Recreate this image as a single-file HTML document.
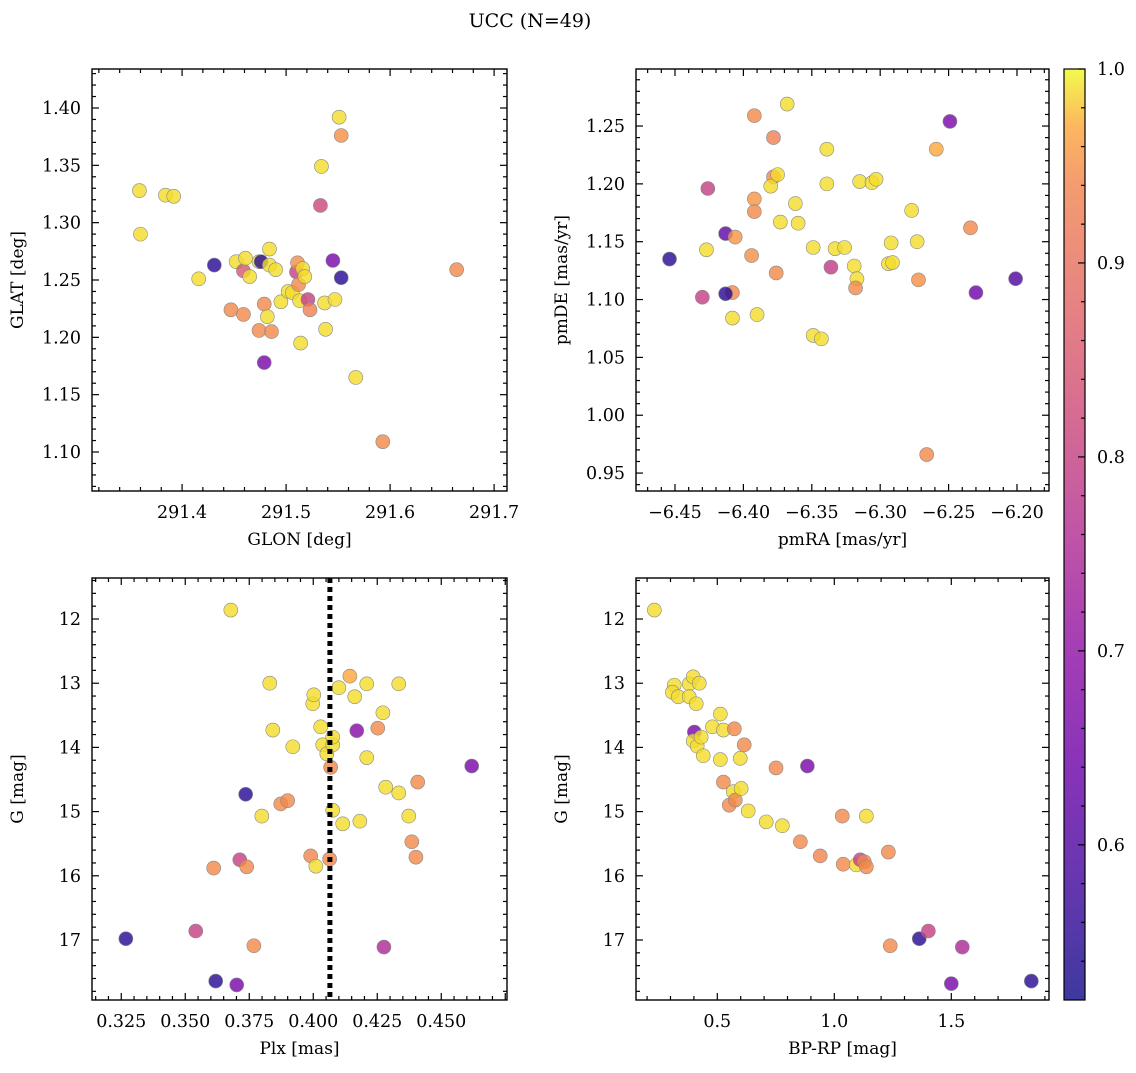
<!DOCTYPE html>
<html><head><meta charset="utf-8"><style>
body{margin:0;background:#fff;}
svg text{font-family:"DejaVu Serif","Liberation Serif",serif;fill:#000;}
</style></head><body>
<svg id="fig" width="1136" height="1068" viewBox="0 0 1136 1068" xmlns="http://www.w3.org/2000/svg">
<defs>
<linearGradient id="plasma" x1="0" y1="1" x2="0" y2="0">
<stop offset="0" stop-color="#0d0887"/><stop offset="0.13" stop-color="#41049d"/><stop offset="0.25" stop-color="#6a00a8"/><stop offset="0.38" stop-color="#8f0da4"/><stop offset="0.5" stop-color="#b12a90"/><stop offset="0.63" stop-color="#cc4778"/><stop offset="0.75" stop-color="#e16462"/><stop offset="0.88" stop-color="#f2844b"/><stop offset="0.94" stop-color="#fca636"/><stop offset="1" stop-color="#f0f921"/>
</linearGradient>
</defs>
<text x="530" y="27" font-size="19" text-anchor="middle">UCC (N=49)</text>
</svg>
<script>
// Panel 1: GLON / GLAT
const p1x=[291.359,291.360,291.384,291.392,291.416,291.431,291.447,291.452,291.459,291.459,291.461,291.465,291.474,291.476,291.474,291.479,291.479,291.482,291.484,291.484,291.486,291.490,291.495,291.502,291.506,291.510,291.511,291.512,291.513,291.514,291.516,291.518,291.521,291.523,291.533,291.534,291.537,291.538,291.545,291.547,291.551,291.553,291.553,291.567,291.593,291.664];
const p1y=[1.328,1.290,1.324,1.323,1.251,1.263,1.224,1.266,1.220,1.258,1.269,1.253,1.266,1.266,1.206,1.178,1.229,1.218,1.263,1.277,1.205,1.259,1.231,1.240,1.239,1.257,1.265,1.246,1.232,1.195,1.260,1.253,1.233,1.224,1.315,1.349,1.230,1.207,1.267,1.233,1.392,1.376,1.252,1.165,1.109,1.259];
const p1c=[0.99,0.99,0.99,0.99,0.99,0.55,0.945,0.99,0.945,0.85,0.99,0.99,0.99,0.55,0.945,0.66,0.945,0.99,0.99,0.99,0.945,0.99,0.99,0.99,0.99,0.80,0.95,0.945,0.99,0.99,0.99,0.99,0.80,0.93,0.82,0.99,0.99,0.99,0.66,0.99,0.99,0.95,0.55,0.99,0.945,0.945];
// Panel 2: pmRA / pmDE
const p2x=[-6.454,-6.426,-6.427,-6.430,-6.408,-6.413,-6.413,-6.408,-6.406,-6.392,-6.392,-6.392,-6.394,-6.390,-6.378,-6.380,-6.375,-6.378,-6.373,-6.376,-6.368,-6.362,-6.360,-6.349,-6.349,-6.336,-6.343,-6.339,-6.339,-6.333,-6.326,-6.319,-6.317,-6.318,-6.315,-6.306,-6.303,-6.294,-6.292,-6.291,-6.277,-6.273,-6.272,-6.266,-6.259,-6.249,-6.234,-6.230,-6.201];
const p2y=[1.135,1.196,1.143,1.102,1.106,1.157,1.105,1.084,1.154,1.259,1.187,1.176,1.138,1.087,1.206,1.198,1.208,1.240,1.167,1.123,1.269,1.183,1.166,1.145,1.069,1.128,1.066,1.230,1.200,1.144,1.145,1.129,1.118,1.110,1.202,1.201,1.204,1.131,1.149,1.132,1.177,1.150,1.117,0.966,1.230,1.254,1.162,1.106,1.118];
const p2c=[0.55,0.80,0.99,0.80,0.945,0.62,0.55,0.99,0.955,0.945,0.955,0.945,0.95,0.99,0.945,0.99,0.99,0.93,0.99,0.945,0.99,0.99,0.99,0.99,0.99,0.79,0.99,0.99,0.99,0.99,0.99,0.99,0.99,0.945,0.99,0.99,0.99,0.99,0.99,0.99,0.99,0.99,0.95,0.945,0.97,0.66,0.945,0.64,0.60];
// Panel 3: Plx / G
const p3x=[0.3268,0.3541,0.3611,0.3619,0.3678,0.3701,0.3713,0.3736,0.3740,0.3768,0.3799,0.3830,0.3842,0.3873,0.3900,0.3920,0.3990,0.3998,0.4002,0.4010,0.4029,0.4037,0.4053,0.4064,0.4068,0.4076,0.4076,0.4076,0.4100,0.4115,0.4143,0.4162,0.4170,0.4182,0.4209,0.4209,0.4252,0.4272,0.4276,0.4283,0.4334,0.4334,0.4373,0.4385,0.4401,0.4408,0.4619];
const p3y=[16.98,16.86,15.88,17.64,11.86,17.70,15.75,14.73,15.86,17.09,15.07,13.00,13.73,14.88,14.83,13.99,15.69,13.32,13.18,15.85,13.68,13.96,14.10,15.74,14.31,13.96,13.84,14.98,13.07,15.19,12.89,13.21,13.74,15.15,13.01,14.16,13.70,13.46,17.11,14.62,14.71,13.01,15.07,15.47,15.71,14.54,14.29];
const p3c=[0.55,0.80,0.945,0.55,0.99,0.66,0.80,0.55,0.945,0.945,0.99,0.99,0.99,0.945,0.945,0.99,0.94,0.99,0.99,0.99,0.99,0.99,0.99,0.945,0.945,0.99,0.99,0.99,0.99,0.99,0.97,0.99,0.68,0.99,0.99,0.99,0.945,0.99,0.75,0.99,0.99,0.99,0.99,0.945,0.945,0.945,0.66];
// Panel 4: BP-RP / G
const p4x=[0.231,0.316,0.308,0.333,0.380,0.380,0.397,0.410,0.402,0.397,0.414,0.423,0.431,0.440,0.513,0.479,0.526,0.513,0.526,0.551,0.568,0.573,0.577,0.598,0.602,0.615,0.632,0.709,0.751,0.778,0.885,0.855,0.940,1.034,1.038,1.094,1.111,1.128,1.137,1.137,1.231,1.239,1.363,1.402,1.500,1.547,1.842];
const p4y=[11.86,13.03,13.14,13.21,13.01,13.21,12.90,13.32,13.76,13.90,13.98,13.00,13.84,14.13,13.48,13.68,13.73,14.19,14.54,14.90,14.69,13.71,14.82,14.17,14.64,13.96,14.99,15.16,14.32,15.22,14.29,15.47,15.69,15.07,15.82,15.83,15.75,15.78,15.07,15.86,15.63,17.09,16.98,16.86,17.68,17.11,17.64];
const p4c=[0.99,0.99,0.99,0.99,0.99,0.99,0.99,0.99,0.66,0.99,0.99,0.99,0.99,0.99,0.99,0.99,0.99,0.99,0.945,0.945,0.99,0.945,0.945,0.99,0.99,0.945,0.99,0.99,0.945,0.99,0.66,0.945,0.94,0.945,0.945,0.99,0.80,0.945,0.99,0.945,0.945,0.945,0.55,0.80,0.66,0.75,0.55];
const plxMedian=0.4065;
const cbTicks=[0.6,0.7,0.8,0.9,1.0];
const cbMin=0.52, cbMax=1.0;

const NS='http://www.w3.org/2000/svg';
const svg=document.getElementById('fig');
function mk(tag,attrs,parent){const e=document.createElementNS(NS,tag);for(const k in attrs)e.setAttribute(k,attrs[k]);(parent||svg).appendChild(e);return e;}
const stops=[[0,[13,8,135]],[0.13,[65,4,157]],[0.25,[106,0,168]],[0.38,[143,13,164]],[0.5,[177,42,144]],[0.63,[204,71,120]],[0.75,[225,100,98]],[0.88,[242,132,75]],[0.94,[252,166,54]],[1,[240,249,33]]];
function cmap(v){let t=(v-cbMin)/(cbMax-cbMin);t=Math.max(0,Math.min(1,t));for(let i=1;i<stops.length;i++){if(t<=stops[i][0]){const a=stops[i-1],b=stops[i];const f=(t-a[0])/(b[0]-a[0]);const c=a[1].map((x,j)=>Math.round(x+(b[1][j]-x)*f));return `rgb(${c.join(',')})`;}}return 'rgb(240,249,33)';}
function fmt(v,d){return (v<0?'\u2212':'')+Math.abs(v).toFixed(d);}

function panel(name,box,xd,yd,xt,yt,xs,ys,xl,yl,xdec,ydec){
  const g=mk('g',{});  
  const [L,T,R,B]=box;
  const sx=v=>L+(v-xd[0])/(xd[1]-xd[0])*(R-L);
  const sy=v=>T+(v-yd[0])/(yd[1]-yd[0])*(B-T);
  const eps=1e-9;
  for(let v=Math.ceil(xd[0]/xs[1]-eps)*xs[1];v<=xd[1]+eps;v+=xs[1]){const X=sx(v);const major=Math.abs(v/xs[0]-Math.round(v/xs[0]))<1e-6;const len=major?7:4;
    mk('line',{x1:X,x2:X,y1:B,y2:B-len,stroke:'#000','stroke-width':1.2},g);mk('line',{x1:X,x2:X,y1:T,y2:T+len,stroke:'#000','stroke-width':1.2},g);}
  for(const v of xt){const t=mk('text',{x:sx(v),y:B+27,'font-size':17.5,'text-anchor':'middle'},g);t.textContent=fmt(v,xdec);}
  for(let v=Math.ceil(Math.min(...yd)/ys[1]-eps)*ys[1];v<=Math.max(...yd)+eps;v+=ys[1]){const Y=sy(v);const major=Math.abs(v/ys[0]-Math.round(v/ys[0]))<1e-6;const len=major?7:4;
    mk('line',{x1:L,x2:L+len,y1:Y,y2:Y,stroke:'#000','stroke-width':1.2},g);mk('line',{x1:R,x2:R-len,y1:Y,y2:Y,stroke:'#000','stroke-width':1.2},g);}
  for(const v of yt){const t=mk('text',{x:L-11,y:sy(v)+6,'font-size':17.5,'text-anchor':'end'},g);t.textContent=fmt(v,ydec);}
  const xt1=mk('text',{x:(L+R)/2,y:B+54,'font-size':17,'text-anchor':'middle'},g);xt1.textContent=xl;
  
  const yt1=mk('text',{x:0,y:0,'font-size':17,'text-anchor':'middle',transform:`translate(${L-69},${(T+B)/2}) rotate(-90)`},g);yt1.textContent=yl;
  
  return {g,sx,sy,box};
}
function points(p,xs,ys,cs){
  for(let i=0;i<xs.length;i++){const c=mk('circle',{cx:p.sx(xs[i]),cy:p.sy(ys[i]),r:7,fill:cmap(cs[i]),'fill-opacity':0.8,stroke:'#888','stroke-width':0.6},p.g);
    
    }
}
function frame(p){const [L,T,R,B]=p.box;mk('rect',{x:L,y:T,width:R-L,height:B-T,fill:'none',stroke:'#000','stroke-width':1.4},p.g);}

const a=panel('glon-glat-panel',[92,69,507,491],[291.3134,291.7124],[1.434,1.066],[291.4,291.5,291.6,291.7],[1.10,1.15,1.20,1.25,1.30,1.35,1.40],[0.1,0.02],[0.05,0.01],'GLON [deg]','GLAT [deg]',1,2);
points(a,p1x,p1y,p1c);frame(a);
const b=panel('pm-panel',[636,69,1049,491],[-6.4785,-6.1766],[1.2993,0.9345],[-6.45,-6.40,-6.35,-6.30,-6.25,-6.20],[0.95,1.00,1.05,1.10,1.15,1.20,1.25],[0.05,0.01],[0.05,0.01],'pmRA [mas/yr]','pmDE [mas/yr]',2,2);
points(b,p2x,p2y,p2c);frame(b);
const c=panel('plx-g-panel',[92,578,507,1000],[0.31357,0.47568],[11.361,17.935],[0.325,0.350,0.375,0.400,0.425,0.450],[12,13,14,15,16,17],[0.025,0.005],[1,0.2],'Plx [mas]','G [mag]',3,0);
points(c,p3x,p3y,p3c);
const ml=mk('line',{x1:c.sx(plxMedian),x2:c.sx(plxMedian),y1:578,y2:1000,stroke:'#000','stroke-width':5,'stroke-dasharray':'5,4'},c.g);

frame(c);
const d=panel('cmd-panel',[636,578,1049,1000],[0.1526,1.9175],[11.361,17.935],[0.5,1.0,1.5],[12,13,14,15,16,17],[0.5,0.1],[1,0.2],'BP-RP [mag]','G [mag]',1,0);
points(d,p4x,p4y,p4c);frame(d);

const cb=mk('g',{});
const cT=69,cB=1000,cL=1064,cR=1085;
mk('rect',{x:cL,y:cT,width:cR-cL,height:cB-cT,fill:'url(#plasma)','fill-opacity':0.8},cb);
mk('rect',{x:cL,y:cT,width:cR-cL,height:cB-cT,fill:'none',stroke:'#000','stroke-width':1.2},cb);
const cy=v=>cB-(v-cbMin)/(cbMax-cbMin)*(cB-cT);
for(let v=0.54;v<=1.0001;v+=0.02){const Y=cy(v);const major=Math.abs(v*10-Math.round(v*10))<1e-6;mk('line',{x1:cR,x2:cR-(major?7:4),y1:Y,y2:Y,stroke:'#000','stroke-width':1.2},cb);}
for(const v of cbTicks){const t=mk('text',{x:cR+12,y:cy(v)+6,'font-size':17.5},cb);t.textContent=v.toFixed(1);}
</script>
</body></html>
